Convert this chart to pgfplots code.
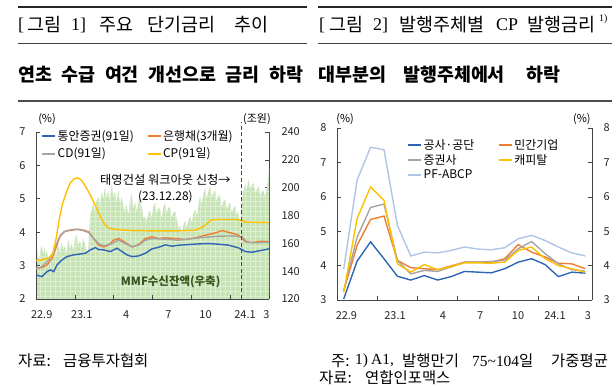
\documentclass[border=0pt]{standalone}
\usepackage{fontspec}
\usepackage{pgfplots}
\pgfplotsset{compat=1.18}
\usetikzlibrary{patterns}
\setmainfont{Noto Sans CJK KR}
\newfontfamily\serif{Liberation Serif}
\definecolor{cblue}{RGB}{46,100,180}
\definecolor{corange}{RGB}{237,125,49}
\definecolor{cgray}{RGB}{165,165,165}
\definecolor{cyellow}{RGB}{255,192,0}
\definecolor{clblue}{RGB}{176,196,232}
\definecolor{cgreen}{RGB}{198,227,180}
\definecolor{cgreenline}{RGB}{222,238,212}
\definecolor{cgreentext}{RGB}{55,85,30}
\definecolor{axcol}{RGB}{70,70,70}
\pgfdeclarepatternformonly{mmfgrid}{\pgfqpoint{-0.5bp}{-0.5bp}}{\pgfqpoint{5.5bp}{5.5bp}}{\pgfqpoint{5bp}{5bp}}{%
  \pgfsetlinewidth{0.5bp}%
  \pgfpathmoveto{\pgfqpoint{0bp}{0bp}}\pgfpathlineto{\pgfqpoint{0bp}{5bp}}%
  \pgfpathmoveto{\pgfqpoint{0bp}{0bp}}\pgfpathlineto{\pgfqpoint{5bp}{0bp}}%
  \pgfusepath{stroke}}
\pgfplotsset{
  base/.style={
    scale only axis,
    tick align=inside,
    major tick length=4bp,
    axis line style={axcol, line width=0.8pt},
    tick style={axcol, line width=0.6pt},
    ticklabel style={font=\fontsize{11}{12}\selectfont, text=black!85},
    /pgf/number format/assume math mode=true,
    legend image code/.code={\draw[#1, line width=2pt] (0bp,0bp) -- (13bp,0bp);},
  }
}
\newcommand{\tfont}{\fontsize{18.5}{20}\selectfont}
\newcommand{\sfont}{\fontsize{18}{20}\selectfont\serif}
\newcommand{\nfont}{\fontsize{15.5}{17}\selectfont}
\begin{document}
\begin{tikzpicture}
\path[use as bounding box] (0,0) rectangle (616bp,386bp);
% header rules
\draw[line width=1.5bp, black!85] (18bp,379bp) -- (307bp,379bp);
\draw[line width=1.5bp, black!85] (318bp,379bp) -- (612bp,379bp);
\draw[line width=0.8bp, black!75] (18bp,343bp) -- (307bp,343bp);
\draw[line width=0.8bp, black!75] (318bp,343bp) -- (612bp,343bp);
\draw[line width=1.2bp, black!70] (18bp,285bp) -- (612bp,285bp);
\begin{scope}[every node/.style={anchor=west, inner sep=0pt}]
% title 1
\node[font=\sfont] at (18bp,361bp) {[};
\node[font=\tfont] at (27bp,361bp) {그림};
\node[font=\sfont] at (71bp,361bp) {1]};
\node[font=\tfont] at (99bp,361bp) {주요};
\node[font=\tfont] at (147bp,361bp) {단기금리};
\node[font=\tfont] at (234bp,361bp) {추이};
% title 2
\node[font=\sfont] at (319bp,361bp) {[};
\node[font=\tfont] at (329bp,361bp) {그림};
\node[font=\sfont] at (373bp,361bp) {2]};
\node[font=\tfont] at (399bp,361bp) {발행주체별};
\node[font=\sfont] at (496bp,361bp) {CP};
\node[font=\tfont] at (527bp,361bp) {발행금리};
\node[font=\fontsize{10}{10}\selectfont\serif] at (599bp,367bp) {1)};
% subtitles
\node[font=\fontsize{18.5}{20}\selectfont\bfseries] at (18bp,311bp)
  {연초\hspace{9.5bp}수급\hspace{9.5bp}여건\hspace{9.5bp}개선으로\hspace{9.5bp}금리\hspace{9.5bp}하락};
\node[font=\fontsize{18.5}{20}\selectfont\bfseries] at (318bp,311bp) {대부분의};
\node[font=\fontsize{18.5}{20}\selectfont\bfseries] at (403bp,311bp) {발행주체에서};
\node[font=\fontsize{18.5}{20}\selectfont\bfseries] at (526bp,311bp) {하락};
% notes
\node[font=\nfont] at (18bp,25bp) {자료:};
\node[font=\nfont] at (63bp,25bp) {금융투자협회};
\node[font=\nfont] at (331bp,25bp) {주:};
\node[font=\nfont\serif] at (355bp,25bp) {1)};
\node[font=\nfont\serif] at (371bp,25bp) {A1,};
\node[font=\nfont] at (402bp,25bp) {발행만기};
\node[font=\nfont] at (472bp,25bp) {{\serif 75\char"7E 104}일};
\node[font=\nfont] at (551bp,25bp) {가중평균};
\node[font=\nfont] at (319bp,8.5bp) {자료:};
\node[font=\nfont] at (365bp,8.5bp) {연합인포맥스};
\end{scope}

% ===== Left chart: MMF area (right axis)
\begin{axis}[base, at={(36bp,87bp)}, anchor=south west, width=233bp, height=167bp,
  xmin=0, xmax=18, ymin=120, ymax=240,
  axis x line=none, axis y line*=right,
  ytick={120,140,...,240},
  yticklabel style={xshift=9bp},
]
\addplot[fill=cgreen, draw=none, postaction={pattern=mmfgrid, pattern color=cgreenline}] coordinates {
(0,120)(0,160)(0.08,157)(0.15,150)(0.25,149)(0.35,156)(0.44,158)(0.55,152)(0.65,157)(0.75,151)(0.83,155)(0.95,149)
(1.08,150)(1.20,147)(1.34,152)(1.45,156)(1.55,150)(1.65,157)(1.73,158)(1.85,153)(1.98,161)(2.10,155)(2.24,158)
(2.35,152)(2.50,163)(2.62,156)(2.76,160)(2.88,154)(3.00,163)(3.14,166)(3.25,158)(3.40,162)(3.50,156)(3.66,164)
(3.80,158)(3.92,155)(4.04,154)(4.10,168)(4.17,179)(4.30,184)(4.43,189)(4.55,182)(4.65,190)(4.82,193.5)(4.95,186)
(5.08,198)(5.20,191)(5.33,200.7)(5.45,192)(5.59,198)(5.70,190)(5.85,202)(5.97,193)(6.10,197)(6.22,189)(6.36,198)
(6.50,188)(6.62,193.5)(6.80,183)(7.00,187.5)(7.15,180)(7.25,190)(7.39,196)(7.50,185)(7.65,189)(7.80,183)(7.92,190)
(8.04,193)(8.20,184)(8.30,178)(8.42,179)(8.55,176)(8.70,182)(8.81,183)(8.95,178)(9.05,186)(9.20,189)(9.35,180)
(9.45,186)(9.58,184)(9.70,178)(9.85,186)(9.97,189)(10.10,181)(10.22,186)(10.36,185)(10.50,178)(10.62,182)(10.74,183)
(10.90,176)(11.02,170)(11.13,172)(11.30,168)(11.40,174)(11.52,176)(11.65,171)(11.78,177)(11.90,179)(12.05,175)
(12.15,181)(12.29,184)(12.45,180)(12.55,188)(12.67,193.5)(12.80,188)(12.92,195)(13.06,199.5)(13.20,192)(13.30,197)
(13.45,200.7)(13.60,193)(13.70,196)(13.83,198)(13.95,190)(14.08,195)(14.22,193)(14.35,186)(14.48,190)(14.61,191.5)
(14.75,184)(14.88,188)(14.99,189)(15.12,182)(15.25,185)(15.38,186.5)(15.50,180)(15.60,183)(15.71,178)(15.80,172)
(15.90,191.5)(16.00,196)(16.16,203.5)(16.28,198)(16.41,206)(16.55,199)(16.68,202)(16.80,203.5)(16.95,196)(17.08,199)
(17.19,200.7)(17.32,194)(17.45,197)(17.57,198)(17.70,193)(17.83,200)(17.95,207)(18.0,214)(18.0,120)
} -- cycle;
\end{axis}

% ===== Left chart: rates
\begin{axis}[base, at={(36bp,87bp)}, anchor=south west, width=233bp, height=167bp,
  xmin=0, xmax=18, ymin=2, ymax=7, clip=false,
  axis x line*=bottom, axis y line*=left,
  xtick={0,3,...,18}, xticklabels={},
  extra x ticks={0.44,3.53,6.96,10.23,13.1,16.15,17.8},
  extra x tick labels={22.9,23.1,4,7,10,24.1,3},
  extra x tick style={major tick length=0pt},
  xticklabel style={yshift=-8bp},
  ytick={2,...,7},
  yticklabel style={xshift=-7bp},
  legend columns=2,
  legend cell align=left,
  legend style={at={(axis description cs:0,1)}, anchor=north west, xshift=5bp, yshift=3bp,
    draw=none, fill=none, inner sep=0pt, row sep=3bp,
    font=\fontsize{12}{13}\selectfont,
    nodes={inner sep=1.5bp},
    /tikz/every even column/.append style={column sep=11bp}},
]
\addplot[cblue, line width=1.4pt] coordinates {
(0,2.72)(0.46,2.67)(0.85,2.82)(1.11,2.87)(1.37,2.82)(1.62,3.02)(2.01,3.17)(2.40,3.27)(2.91,3.32)(3.30,3.34)(3.81,3.37)
(4.20,3.47)(4.59,3.54)(4.84,3.48)(5.23,3.47)(5.74,3.42)(6.26,3.52)(6.65,3.42)(7.03,3.32)(7.42,3.27)(7.93,3.29)(8.45,3.37)
(8.96,3.50)(9.48,3.55)(9.99,3.62)(10.51,3.58)(11.02,3.61)(11.80,3.63)(12.57,3.65)(13.34,3.66)(14.12,3.64)(14.89,3.61)
(15.66,3.53)(16.18,3.42)(16.69,3.40)(17.47,3.46)(18.0,3.50)};
\addlegendentry{통안증권(91일)}
\addplot[corange, line width=1.4pt] coordinates {
(0,2.92)(0.46,2.94)(0.85,3.02)(1.24,3.22)(1.62,3.61)(1.88,3.91)(2.27,4.03)(2.78,4.06)(3.30,4.09)(3.68,4.06)(4.07,4.01)
(4.46,3.81)(4.84,3.61)(5.23,3.56)(5.62,3.61)(6.00,3.76)(6.39,3.81)(6.90,3.69)(7.42,3.56)(7.93,3.63)(8.45,3.81)(8.96,3.86)
(9.48,3.81)(9.99,3.83)(10.77,3.81)(11.54,3.78)(12.31,3.83)(13.08,3.91)(13.86,3.98)(14.4,4.05)(14.63,4.02)(15.14,3.97)
(15.66,3.91)(16.18,3.71)(16.69,3.69)(17.47,3.73)(18.0,3.71)};
\addlegendentry{은행채(3개월)}
\addplot[cgray, line width=1.4pt] coordinates {
(0,2.90)(0.46,2.97)(0.98,3.17)(1.37,3.42)(1.75,3.81)(2.14,4.01)(2.53,4.06)(3.04,4.09)(3.55,4.06)(4.07,3.99)(4.46,3.81)
(4.84,3.66)(5.23,3.59)(5.87,3.66)(6.39,3.76)(6.90,3.66)(7.42,3.56)(7.93,3.61)(8.45,3.76)(8.96,3.81)(9.99,3.79)(11.02,3.76)
(12.06,3.81)(13.08,3.85)(14.12,3.88)(15.14,3.89)(15.92,3.86)(16.31,3.70)(16.95,3.68)(18.0,3.70)};
\addlegendentry{CD(91일)}
\addplot[cyellow, line width=1.4pt] coordinates {
(0,3.15)(0.5,3.17)(1.0,3.24)(1.3,3.35)(1.55,3.8)(1.8,4.4)(2.05,4.85)(2.35,5.2)(2.65,5.48)(2.95,5.6)(3.2,5.63)(3.45,5.58)
(3.7,5.45)(4.05,5.22)(4.43,4.93)(4.82,4.59)(5.21,4.29)(5.52,4.15)(5.85,4.10)(6.24,4.08)(7.27,4.05)(9,4.04)(11,4.04)
(12.3,4.06)(12.7,4.12)(13.1,4.22)(13.5,4.36)(13.85,4.38)(15.5,4.38)(15.9,4.35)(16.2,4.30)(18.0,4.29)};
\addlegendentry{CP(91일)}
\draw[axcol, line width=1pt, dash pattern=on 4bp off 2.5bp] (axis cs:15.9,2) -- (axis cs:15.9,7.3);
\node[font=\fontsize{12.3}{13}\selectfont, inner sep=0pt] at (axis cs:10.0,5.57) {태영건설 워크아웃 신청\char"2192};
\node[font=\fontsize{12}{13}\selectfont, inner sep=0pt] at (axis cs:10.0,5.05) {(23.12.28)};
\node[font=\fontsize{11.5}{13}\selectfont\bfseries, text=cgreentext, inner sep=0pt] at (axis cs:10.4,2.52) {MMF수신잔액(우축)};
\node[font=\fontsize{11}{12}\selectfont, inner sep=0pt] at (axis cs:0.85,7.38) {(\%)};
\node[font=\fontsize{11}{12}\selectfont, inner sep=0pt] at (axis cs:17.07,7.38) {(조원)};
\end{axis}

% ===== Right chart
\pgfplotstableread{
x koj priv sec cap pf
0.5 3.03 3.27 3.27 3.22 3.90
1.5 4.13 4.59 4.83 5.37 6.49
2.5 4.69 5.34 5.69 6.29 7.44
3.5 4.20 5.44 5.79 5.90 7.37
4.5 3.69 4.15 4.15 4.05 5.17
5.5 3.58 3.94 3.76 3.81 4.28
6.5 3.71 3.91 3.86 4.03 4.39
7.5 3.58 3.88 3.83 3.88 4.37
8.5 3.68 3.99 3.96 3.97 4.44
9.5 3.83 4.10 4.10 4.08 4.54
10.5 3.81 4.10 4.10 4.08 4.48
11.5 3.79 4.10 4.12 4.07 4.46
12.5 3.91 4.20 4.15 4.10 4.52
13.5 4.10 4.61 4.49 4.44 4.78
14.5 4.20 4.39 4.70 4.54 4.88
15.5 4.03 4.25 4.35 4.20 4.73
16.5 3.68 4.07 4.05 4.00 4.54
17.5 3.81 4.05 3.88 3.91 4.37
18.5 3.78 3.91 3.84 3.81 4.28
}\cpdata
\begin{axis}[base, at={(337bp,86bp)}, anchor=south west, width=255bp, height=172bp,
  xmin=0, xmax=19, ymin=3, ymax=8, clip=false,
  axis x line*=bottom, axis y line*=left,
  xtick={0,3,...,18}, xticklabels={},
  extra x ticks={0.7,4.32,7.9,10.66,13.49,16.24,18.7},
  extra x tick labels={22.9,23.1,4,7,10,24.1,3},
  extra x tick style={major tick length=0pt},
  xticklabel style={yshift=-8bp},
  ytick={3,...,8},
  yticklabel style={xshift=-7bp},
  legend columns=2,
  legend cell align=left,
  legend style={at={(axis description cs:0,1)}, anchor=north west, xshift=70bp, yshift=-10bp,
    draw=none, fill=none, inner sep=0pt, row sep=0.5bp,
    font=\fontsize{12}{13}\selectfont,
    nodes={inner sep=1.5bp},
    /tikz/every even column/.append style={column sep=22bp}},
]
\addplot[cblue, line width=1.4pt] table[x=x,y=koj] {\cpdata};
\addlegendentry{공사·공단}
\addplot[corange, line width=1.4pt] table[x=x,y=priv] {\cpdata};
\addlegendentry{민간기업}
\addplot[cgray, line width=1.4pt] table[x=x,y=sec] {\cpdata};
\addlegendentry{증권사}
\addplot[cyellow, line width=1.4pt] table[x=x,y=cap] {\cpdata};
\addlegendentry{캐피탈}
\addplot[clblue, line width=1.4pt] table[x=x,y=pf] {\cpdata};
\addlegendentry{PF-ABCP}
\node[font=\fontsize{11}{12}\selectfont, inner sep=0pt] at (axis cs:0.6,8.25) {(\%)};
\node[font=\fontsize{11}{12}\selectfont, inner sep=0pt] at (axis cs:18.25,8.25) {(\%)};
\end{axis}
\begin{axis}[base, at={(337bp,86bp)}, anchor=south west, width=255bp, height=172bp,
  xmin=0, xmax=19, ymin=3, ymax=8,
  axis x line=none, axis y line*=right,
  ytick={3,...,8},
  yticklabel style={xshift=8bp},
]
\addplot[draw=none] coordinates {(1,4)};
\end{axis}
\end{tikzpicture}
\end{document}
